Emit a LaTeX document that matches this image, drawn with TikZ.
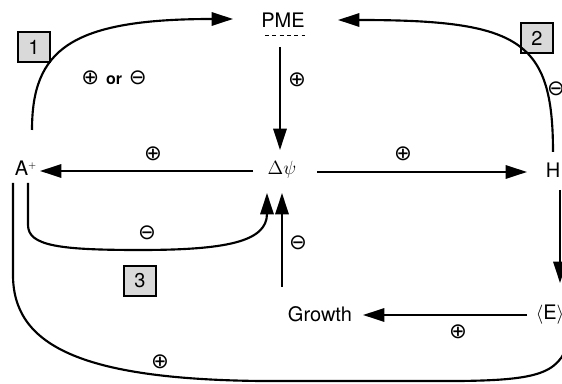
\documentclass[tikz,border=0pt]{standalone}
\usepackage{fontspec}
\setmainfont{TeX Gyre Heros}
\newfontfamily\signfont{DejaVu Sans}
\usepackage{amsmath,amssymb}
\usetikzlibrary{arrows.meta,calc}

\begin{document}
\begin{tikzpicture}[x=0.75pt,y=0.75pt,yscale=-1,xscale=1,
  lbl/.style={font=\fontsize{15}{17}\selectfont, inner sep=0pt},
  sgn/.style={font=\signfont\fontsize{16}{18}\selectfont, inner sep=0pt},
  numbox/.style={draw, line width=1.6pt, fill=black!15, minimum width=24pt, minimum height=22pt, inner sep=0pt, font=\fontsize{15}{17}\selectfont},
  arr/.style={line width=1.6pt, -{Triangle[length=16pt,width=10pt]}}]
\useasboundingbox (0,0) rectangle (562,384);
\clip (0,0) rectangle (562,384);
% Text Node
\node [lbl] (pme) at (283,20) {PME};
% Text Node
\node [lbl] (dpsi) at (282,170) {$\Delta\psi$};
% Text Node
\node [lbl] (ap) at (26,168) {A$^{\scriptscriptstyle +}$};
% Text Node
\node [lbl] (h) at (553,170) {H};
% Text Node
\node [lbl] (e) at (550,315) {$\langle$E$\rangle$};
% Text Node
\node [lbl] (growth) at (320,314) {Growth};
% Boxes
\node [numbox] (box1) at (34,47) {1};
\node [numbox] (box2) at (537,38) {2};
\node [numbox] (box3) at (140,281) {3};
%Straight Lines [dashed mark under PME]
\draw [line width=0.6pt, dash pattern={on 3pt off 2.5pt}] ($(pme.base west)+(4,8)$) -- ($(pme.base east)+(0,8)$);
%Curve Lines
\draw [arr] ($(ap)+(6,-38)$) .. controls (32,50) and (70,19) .. ($(pme)+(-50,-1)$);
%Curve Lines
\draw [arr] ($(h)+(0,-18)$) .. controls (553,40) and (520,20) .. ($(pme)+(55,0)$);
%Straight Lines
\draw [arr] ($(pme)+(-3,27)$) -- ($(dpsi)+(-2,-20)$);
\draw [arr] ($(dpsi)+(-29,1)$) -- ($(ap)+(14,3)$);
\draw [arr] ($(dpsi)+(35,2)$) -- ($(h)+(-26,2)$);
\draw [arr] ($(h)+(7,20)$) -- ($(e)+(10,-32)$);
\draw [arr] ($(e)+(-23,0)$) -- ($(growth)+(43,1)$);
\draw [arr] ($(growth)+(-38,-27)$) -- ($(dpsi)+(0,23)$);
%Curve Lines
\draw [arr] ($(ap)+(2,15)$) -- (28,225) .. controls (28,246) and (60,250) .. (140,250) .. controls (225,250) and (267,242) .. ($(dpsi)+(-15,23)$);
%Curve Lines
\draw [arr] ($(ap)+(-13,15)$) -- (13,275) .. controls (13,345) and (80,379) .. (260,381) -- (460,381) .. controls (545,380) and (561,372) .. ($(e)+(26,0)$);
% Signs
\node [sgn] (s1) at (114,78) {⊕ {\fontsize{12}{14}\selectfont\bfseries\rmfamily or} ⊖};
\node [sgn] (s2) at (297,80) {⊕};
\node [sgn] (s3) at (556,89) {⊖};
\node [sgn] (s4) at (153,154) {⊕};
\node [sgn] (s5) at (403,154) {⊕};
\node [sgn] (s6) at (147,233) {⊖};
\node [sgn] (s7) at (298,243) {⊖};
\node [sgn] (s8) at (458,332) {⊕};
\node [sgn] (s9) at (160,362) {⊕};
\end{tikzpicture}
\end{document}
